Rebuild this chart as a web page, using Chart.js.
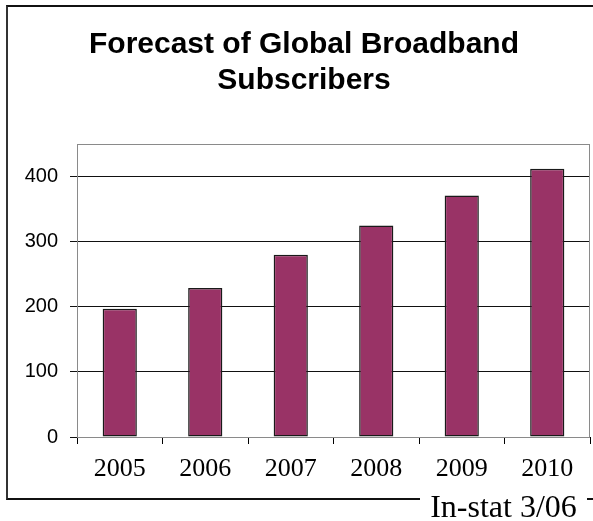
<!DOCTYPE html>
<html>
<head>
<meta charset="utf-8">
<script src="https://cdn.jsdelivr.net/npm/chart.js@4.4.1/dist/chart.umd.min.js"></script>
<style>
    html, body { margin: 0; padding: 0; background: #fff; }
    .wrap { position: relative; width: 593px; height: 521px; overflow: hidden; }
    .frame {
        position: absolute; left: 6px; top: 5px; width: 620px; height: 491px;
        border-top: 2px solid #111; border-left: 2px solid #333; border-bottom: 2px solid #111;
    }
    #chart { position: absolute; left: 0; top: 0; }
    .source {
        position: absolute; left: 420px; top: 490px; width: 167px; height: 31px;
        background: #fff; font-family: "Liberation Serif", "Times New Roman", serif;
        font-size: 32px; line-height: 32px; text-align: center; color: #000; white-space: nowrap;
    }
</style>
</head>
<body>
<div class="wrap">
    <div class="frame"></div>
    <canvas id="chart" width="593" height="521"></canvas>
    <div class="source">In-stat 3/06</div>
</div>
<script>
const years = ['2005', '2006', '2007', '2008', '2009', '2010'];
const subscribers = [197, 229, 280, 325, 371, 412];
const yTicks = [0, 100, 200, 300, 400];

// grey box round the plot area
const plotBox = {
    id: 'plotBox',
    beforeDatasetsDraw(chart) {
        const { ctx, chartArea: a } = chart;
        ctx.save();
        ctx.strokeStyle = '#8a8a8a';
        ctx.lineWidth = 1;
        ctx.strokeRect(a.left + 0.5, a.top + 0.5, a.right - a.left - 1, a.bottom - a.top);
        ctx.restore();
    }
};

new Chart(document.getElementById('chart'), {
    type: 'bar',
    data: {
        labels: years,
        datasets: [{
            data: subscribers,
            backgroundColor: '#993366',
            borderColor: '#1a1a1a',
            borderWidth: 1.5,
            borderSkipped: false,
            barPercentage: 0.4,
            categoryPercentage: 1
        }]
    },
    options: {
        responsive: false,
        animation: false,
        layout: { padding: { left: 18, right: 3, top: 20, bottom: 24 } },
        plugins: {
            legend: { display: false },
            tooltip: { enabled: false },
            title: {
                display: true,
                text: ['Forecast of Global Broadband', 'Subscribers'],
                color: '#000',
                font: { family: '"Liberation Sans", Arial, sans-serif', size: 30, weight: 'bold', lineHeight: 1.2 },
                padding: { top: 7, bottom: 45 }
            }
        },
        scales: {
            x: {
                offset: true,
                grid: { drawOnChartArea: false, tickLength: 7, color: '#000' },
                border: { color: '#000' },
                ticks: {
                    color: '#000',
                    padding: 10,
                    maxRotation: 0,
                    font: { family: '"Liberation Serif", "Times New Roman", serif', size: 26 }
                },
                afterFit(scale) { scale.height = 60; }
            },
            y: {
                min: 0,
                max: 450,
                afterBuildTicks(scale) { scale.ticks = yTicks.map(v => ({ value: v })); },
                grid: { color: '#111', tickLength: 7 },
                border: { color: '#8a8a8a' },
                ticks: {
                    color: '#000',
                    padding: 12,
                    font: { family: '"Liberation Sans", Arial, sans-serif', size: 20 }
                },
                afterFit(scale) { scale.width = 59; }
            }
        }
    },
    plugins: [plotBox]
});
</script>
</body>
</html>
